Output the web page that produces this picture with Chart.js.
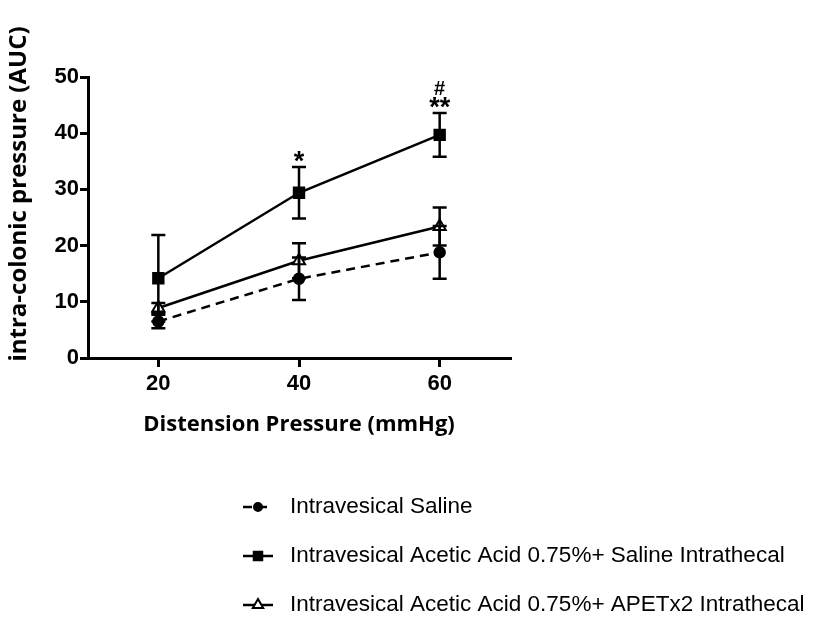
<!DOCTYPE html>
<html>
<head>
<meta charset="utf-8">
<script src="https://cdn.jsdelivr.net/npm/chart.js@4/dist/chart.umd.min.js"></script>
<style>
  body { margin: 0; background: #fff; }
  #wrap { width: 813px; height: 620px; }
</style>
</head>
<body>
<div id="wrap"><canvas id="pressureChart" width="813" height="620"></canvas></div>
<script>
// values
var pressures = [20, 40, 60];
var xTickValues = [20, 40, 60];
var seriesLabels = [
  'Intravesical Saline',
  'Intravesical Acetic Acid 0.75%+ Saline Intrathecal',
  'Intravesical Acetic Acid 0.75%+ APETx2 Intrathecal'
];
var salineMean = [6.5, 14.1, 18.8];
var salineErr = [1.2, 3.8, 4.7];
var aceticMean = [14.2, 29.4, 39.7];
var aceticErr = [7.7, 4.6, 3.9];
var apetxMean = [8.9, 17.3, 23.4];
var apetxErr = [0.9, 3.1, 3.4];
// significance marks: which series / x value, and the symbol
var markSeries = [1, 1, 1];
var markX = [40, 60, 60];
var markText = ['*', '**', '#'];
var markRow = [0, 0, 1];
var yTitle = 'intra-colonic pressure (AUC)';

function toPoints(ys) {
  return pressures.map(function (x, i) { return { x: x, y: ys[i] }; });
}

var errorBars = {
  id: 'errorBars',
  afterDatasetsDraw: function (chart) {
    var ctx = chart.ctx;
    var xs = chart.scales.x, ys = chart.scales.y;
    ctx.save();
    ctx.strokeStyle = '#000';
    ctx.lineWidth = 2.5;
    chart.data.datasets.forEach(function (ds) {
      ds.data.forEach(function (p, j) {
        var e = ds.errors[j];
        var px = xs.getPixelForValue(p.x);
        var top = ys.getPixelForValue(p.y + e);
        var bot = ys.getPixelForValue(p.y - e);
        ctx.beginPath();
        ctx.moveTo(px, top); ctx.lineTo(px, bot);
        ctx.moveTo(px - 7, top); ctx.lineTo(px + 7, top);
        ctx.moveTo(px - 7, bot); ctx.lineTo(px + 7, bot);
        ctx.stroke();
      });
    });
    // significance marks above the upper error bar
    ctx.fillStyle = '#000';
    ctx.textAlign = 'center';
    ctx.textBaseline = 'bottom';
    markText.forEach(function (t, k) {
      var ds = chart.data.datasets[markSeries[k]];
      var j = pressures.indexOf(markX[k]);
      var top = ys.getPixelForValue(ds.data[j].y + ds.errors[j]);
      var px = xs.getPixelForValue(markX[k]);
      ctx.font = markRow[k] ? 'bold 20px "Liberation Sans"' : 'bold 27px "Liberation Sans"';
      ctx.fillText(t, px, top + 9 - markRow[k] * 22);
    });
    ctx.restore();
  }
};

var sideLegend = {
  id: 'sideLegend',
  afterDraw: function (chart) {
    var ctx = chart.ctx;
    ctx.save();
    // y axis title, centred a little above the plot's middle
    ctx.fillStyle = '#000';
    ctx.font = 'bold 24px "Open Sans"';
    ctx.textAlign = 'center';
    ctx.textBaseline = 'middle';
    ctx.translate(19, 194);
    ctx.rotate(-Math.PI / 2);
    ctx.fillText(yTitle, 0, 0);
    ctx.setTransform(1, 0, 0, 1, 0, 0);

    chart.data.datasets.forEach(function (ds, i) {
      var y = 507 + i * 49;
      ctx.strokeStyle = '#000';
      ctx.lineWidth = 2.5;
      ctx.setLineDash(ds.borderDash || []);
      ctx.beginPath();
      ctx.moveTo(243, y); ctx.lineTo(273, y);
      ctx.stroke();
      ctx.setLineDash([]);
      ctx.fillStyle = ds.pointBackgroundColor;
      ctx.strokeStyle = '#000';
      ctx.lineWidth = 2;
      Chart.helpers.drawPoint(ctx, {
        pointStyle: ds.pointStyle, radius: ds.pointRadius - 1, borderWidth: 2, rotation: 0
      }, 258, y);
      ctx.fillStyle = '#000';
      ctx.font = '22.5px "Liberation Sans"';
      ctx.textAlign = 'left';
      ctx.textBaseline = 'middle';
      ctx.fillText(ds.label, 290, y);
    });
    ctx.restore();
  }
};

var ctx = document.getElementById('pressureChart').getContext('2d');
new Chart(ctx, {
  type: 'line',
  data: {
    datasets: [{
      label: seriesLabels[0],
      data: toPoints(salineMean),
      errors: salineErr,
      borderColor: '#000',
      borderWidth: 2.5,
      borderDash: [9, 6],
      pointStyle: 'circle',
      pointRadius: 5,
      pointBackgroundColor: '#000',
      pointBorderColor: '#000'
    }, {
      label: seriesLabels[1],
      data: toPoints(aceticMean),
      errors: aceticErr,
      borderColor: '#000',
      borderWidth: 2.5,
      pointStyle: 'rect',
      pointRadius: 7,
      pointBackgroundColor: '#000',
      pointBorderColor: '#000'
    }, {
      label: seriesLabels[2],
      data: toPoints(apetxMean),
      errors: apetxErr,
      borderColor: '#000',
      borderWidth: 2.5,
      pointStyle: 'triangle',
      pointRadius: 7,
      pointBorderWidth: 2,
      pointBackgroundColor: '#fff',
      pointBorderColor: '#000'
    }]
  },
  options: {
    responsive: false,
    animation: false,
    layout: { padding: { left: 0, top: 77, right: 303, bottom: 162 } },
    plugins: {
      legend: { display: false },
      tooltip: { enabled: false }
    },
    scales: {
      x: {
        type: 'linear',
        min: 10,
        max: 70,
        afterBuildTicks: function (scale) {
          scale.ticks = xTickValues.map(function (v) { return { value: v }; });
        },
        afterFit: function (scale) { scale.height = 100; },
        border: { display: true, color: '#000', width: 3 },
        grid: { display: true, drawOnChartArea: false, drawTicks: true, tickLength: 9, color: '#000', lineWidth: 3 },
        ticks: { color: '#000', padding: 4, font: { family: 'Liberation Sans', size: 22, weight: 'bold' } },
        title: {
          display: true,
          text: 'Distension Pressure (mmHg)',
          color: '#000',
          padding: { top: 0, bottom: 20 },
          font: { family: 'Open Sans', size: 22, weight: 'bold' }
        }
      },
      y: {
        min: 0,
        max: 50,
        ticks: { stepSize: 10, color: '#000', padding: 1, font: { family: 'Liberation Sans', size: 22, weight: 'bold' } },
        afterFit: function (scale) { scale.width = 88; },
        border: { display: true, color: '#000', width: 3 },
        grid: { display: true, drawOnChartArea: false, drawTicks: true, tickLength: 8, color: '#000', lineWidth: 3 },
        title: { display: false }
      }
    }
  },
  plugins: [errorBars, sideLegend]
});
</script>
</body>
</html>
